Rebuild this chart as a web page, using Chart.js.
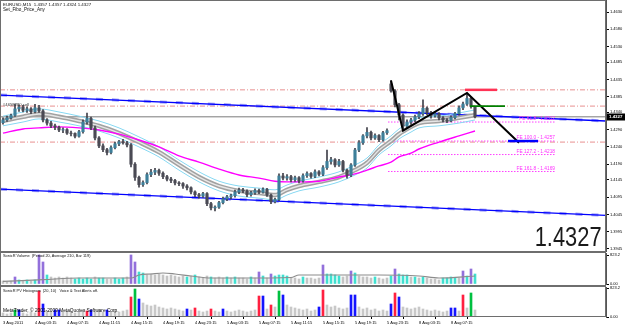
<!DOCTYPE html>
<html>
<head>
<meta charset="utf-8">
<title>EURUSD,M15</title>
<script src="https://cdn.jsdelivr.net/npm/chart.js@4.4.1/dist/chart.umd.min.js"></script>
<style>
  html, body { margin: 0; padding: 0; background: #fff; }
  #wrap { position: relative; width: 625px; height: 326px; overflow: hidden; font-family: "Liberation Sans", Arial, sans-serif; }
  .pane { position: absolute; left: 0; width: 625px; }
  .pane canvas { display: block; }
  .txt { position: absolute; white-space: nowrap; line-height: 1; color: #111; z-index: 2; }
  #bigPrice { right: 23px; top: 224px; font-size: 27px; color: #1a1a1a; transform: scaleX(0.81); transform-origin: right top; }
</style>
</head>
<body>
<div id="wrap">
  <div class="pane" style="top:0;height:252px"><canvas id="main" width="625" height="252"></canvas></div>
  <div class="pane" style="top:252px;height:34px"><canvas id="vol" width="625" height="34"></canvas></div>
  <div class="pane" style="top:286px;height:40px"><canvas id="pv" width="625" height="40"></canvas></div>

  <div class="txt" style="left:3px;top:3px;font-size:4.4px">EURUSD,M15&nbsp; 1.4357 1.4357 1.4324 1.4327</div>
  <div class="txt" style="left:3px;top:8px;font-size:4.6px">Set_Fibo_Price_Any</div>
  <div class="txt" id="bigPrice">1.4327</div>
  <div class="txt" style="left:3px;top:254px;font-size:3.9px">SonicR Volume&nbsp; (Period 20, Average 210, Bar 119)</div>
  <div class="txt" style="left:3px;top:289px;font-size:3.9px">SonicR PV Histogram&nbsp; (20, 10)&nbsp;&nbsp; Voice &amp; Text Alerts off.</div>
  <div class="txt" style="left:3px;top:308.5px;font-size:4.8px;color:#000">MetaTrader, © 2001-2009 MetaQuotes Software Corp.</div>
</div>

<script>
// ---- price axis / time axis
const priceTicks = [1.4630, 1.4580, 1.4530, 1.4485, 1.4435, 1.4385, 1.4340, 1.4290, 1.4240, 1.4190, 1.4145, 1.4095, 1.4045, 1.3995, 1.3945];
const timeLabels = ['3 Aug 2011', '4 Aug 03:15', '4 Aug 07:15', '4 Aug 11:15', '4 Aug 15:15', '4 Aug 19:15', '4 Aug 23:15',
  '5 Aug 03:15', '5 Aug 07:15', '5 Aug 11:15', '5 Aug 15:15', '5 Aug 19:15', '5 Aug 23:15', '8 Aug 03:15', '8 Aug 07:15'];

// ---- candles (bar index 0..118)
const opens = [1.4310,1.4318,1.4324,1.4331,1.4350,1.4355,1.4346,1.4350,1.4342,1.4353,
  1.4344,1.4318,1.4309,1.4301,1.4297,1.4289,1.4290,1.4280,1.4279,1.4271,
  1.4284,1.4312,1.4322,1.4295,1.4266,1.4243,1.4232,1.4224,1.4238,1.4249,
  1.4255,1.4252,1.4246,1.4190,1.4152,1.4131,1.4137,1.4160,1.4167,1.4172,
  1.4164,1.4154,1.4147,1.4143,1.4136,1.4134,1.4127,1.4122,1.4110,1.4102,
  1.4098,1.4105,1.4076,1.4064,1.4066,1.4079,1.4090,1.4096,1.4099,1.4110,
  1.4115,1.4112,1.4102,1.4108,1.4114,1.4109,1.4117,1.4101,1.4082,1.4088,
  1.4156,1.4150,1.4154,1.4145,1.4151,1.4142,1.4157,1.4163,1.4155,1.4168,
  1.4161,1.4180,1.4198,1.4203,1.4188,1.4198,1.4173,1.4158,1.4188,1.4231,
  1.4252,1.4272,1.4282,1.4266,1.4273,1.4261,1.4281,1.4422,1.4402,1.4362,
  1.4332,1.4300,1.4312,1.4318,1.4327,1.4336,1.4352,1.4339,1.4330,1.4336,
  1.4324,1.4318,1.4316,1.4325,1.4336,1.4353,1.4364,1.4380,1.4357];
const highs = [1.4324,1.4329,1.4335,1.4364,1.4361,1.4360,1.4356,1.4354,1.4363,1.4360,
  1.4348,1.4322,1.4314,1.4306,1.4300,1.4295,1.4293,1.4286,1.4281,1.4288,
  1.4318,1.4338,1.4326,1.4300,1.4270,1.4249,1.4236,1.4243,1.4254,1.4259,
  1.4262,1.4256,1.4250,1.4195,1.4156,1.4142,1.4165,1.4175,1.4178,1.4176,
  1.4168,1.4158,1.4152,1.4146,1.4140,1.4137,1.4131,1.4125,1.4113,1.4106,
  1.4109,1.4108,1.4080,1.4070,1.4083,1.4095,1.4100,1.4104,1.4115,1.4121,
  1.4120,1.4116,1.4112,1.4119,1.4118,1.4122,1.4120,1.4104,1.4092,1.4162,
  1.4164,1.4160,1.4158,1.4156,1.4154,1.4162,1.4168,1.4166,1.4174,1.4172,
  1.4186,1.4231,1.4210,1.4206,1.4204,1.4201,1.4176,1.4192,1.4236,1.4258,
  1.4276,1.4296,1.4286,1.4278,1.4276,1.4285,1.4292,1.4432,1.4406,1.4366,
  1.4336,1.4318,1.4323,1.4332,1.4342,1.4376,1.4356,1.4343,1.4341,1.4339,
  1.4328,1.4322,1.4330,1.4340,1.4359,1.4370,1.4396,1.4384,1.4357];
const lows = [1.4306,1.4314,1.4320,1.4328,1.4343,1.4341,1.4340,1.4336,1.4338,1.4340,
  1.4312,1.4303,1.4296,1.4290,1.4284,1.4281,1.4276,1.4272,1.4266,1.4268,
  1.4280,1.4306,1.4290,1.4260,1.4238,1.4226,1.4217,1.4220,1.4234,1.4244,
  1.4248,1.4240,1.4182,1.4143,1.4124,1.4126,1.4133,1.4154,1.4160,1.4158,
  1.4148,1.4142,1.4137,1.4130,1.4128,1.4120,1.4116,1.4104,1.4096,1.4092,
  1.4094,1.4070,1.4058,1.4055,1.4062,1.4075,1.4085,1.4090,1.4095,1.4105,
  1.4108,1.4096,1.4098,1.4103,1.4105,1.4106,1.4097,1.4076,1.4078,1.4085,
  1.4145,1.4144,1.4139,1.4140,1.4136,1.4138,1.4152,1.4150,1.4151,1.4156,
  1.4157,1.4175,1.4190,1.4182,1.4184,1.4168,1.4150,1.4154,1.4184,1.4226,
  1.4247,1.4266,1.4260,1.4262,1.4255,1.4257,1.4276,1.4398,1.4356,1.4318,
  1.4287,1.4294,1.4305,1.4313,1.4322,1.4331,1.4333,1.4323,1.4326,1.4318,
  1.4312,1.4310,1.4312,1.4321,1.4332,1.4348,1.4360,1.4352,1.4324];
const closes = [1.4318,1.4324,1.4331,1.4350,1.4355,1.4346,1.4350,1.4342,1.4353,1.4344,
  1.4318,1.4309,1.4301,1.4297,1.4289,1.4290,1.4280,1.4279,1.4271,1.4284,
  1.4312,1.4322,1.4295,1.4266,1.4243,1.4232,1.4224,1.4238,1.4249,1.4255,
  1.4252,1.4246,1.4190,1.4152,1.4131,1.4137,1.4160,1.4167,1.4172,1.4164,
  1.4154,1.4147,1.4143,1.4136,1.4134,1.4127,1.4122,1.4110,1.4102,1.4098,
  1.4105,1.4076,1.4064,1.4066,1.4079,1.4090,1.4096,1.4099,1.4110,1.4115,
  1.4112,1.4102,1.4108,1.4114,1.4109,1.4117,1.4101,1.4082,1.4088,1.4156,
  1.4150,1.4154,1.4145,1.4151,1.4142,1.4157,1.4163,1.4155,1.4168,1.4161,
  1.4180,1.4198,1.4203,1.4188,1.4198,1.4173,1.4158,1.4188,1.4231,1.4252,
  1.4272,1.4282,1.4266,1.4273,1.4261,1.4281,1.4287,1.4402,1.4362,1.4332,
  1.4300,1.4312,1.4318,1.4327,1.4336,1.4352,1.4339,1.4330,1.4336,1.4324,
  1.4318,1.4316,1.4325,1.4336,1.4353,1.4364,1.4380,1.4357,1.4327];

// ---- moving averages, read at these bar indices
const maBars   = [0, 5, 9, 14, 19, 24, 29, 34, 39, 44, 49, 54, 59, 64, 68, 71, 74, 79, 84, 88, 91, 94, 97, 99, 102, 104, 109, 114, 118];
const emaMid   = [1.4315,1.4327,1.4335,1.4327,1.4315,1.4301,1.4280,1.4254,1.4225,1.4188,1.4153,1.4127,1.4113,1.4107,1.4101,1.4116,1.4127,1.4139,1.4153,1.4173,1.4194,1.4231,1.4257,1.4277,1.4298,1.4309,1.4315,1.4324,1.4332];
const emaUpper = [1.4329,1.4341,1.4350,1.4341,1.4329,1.4315,1.4295,1.4269,1.4240,1.4202,1.4168,1.4141,1.4127,1.4121,1.4116,1.4130,1.4141,1.4153,1.4168,1.4188,1.4208,1.4246,1.4272,1.4292,1.4312,1.4324,1.4329,1.4338,1.4347];
const emaLower = [1.4301,1.4312,1.4321,1.4312,1.4301,1.4286,1.4266,1.4240,1.4211,1.4173,1.4139,1.4113,1.4098,1.4092,1.4087,1.4101,1.4113,1.4124,1.4139,1.4159,1.4179,1.4217,1.4243,1.4263,1.4283,1.4295,1.4301,1.4309,1.4318];
const maSlow   = [1.4280,1.4292,1.4295,1.4298,1.4295,1.4289,1.4277,1.4260,1.4240,1.4214,1.4196,1.4176,1.4159,1.4150,1.4141,1.4139,1.4139,1.4141,1.4153,1.4162,1.4173,1.4185,1.4196,1.4211,1.4222,1.4234,1.4254,1.4272,1.4286];

// ---- drawn objects
const channelX = [-0.75, 150.75];
const channelUpper = [1.4390, 1.4315];
const channelLower = [1.4118, 1.4042];
const dashLevels = [1.4405, 1.4358, 1.4254];
const zigzagX = [97, 100, 116, 129];
const zigzagY = [1.4432, 1.4287, 1.4396, 1.4252];
const fiboNames = ['FE 61.8', 'FE 100.0', 'FE 127.2', 'FE 161.8'];
const fiboLevels = [1.4312, 1.4257, 1.4218, 1.4169];
const fiboFrom = 96.25, fiboTo = 138;
const redMark = [1.4405, 115.5, 123.5];
const greenMark = [1.4358, 116.75, 125.5];
const blueMark = [1.4257, 126.25, 133.75];
const orderLabel = '#4658280 sell';
const orderPrice = 1.4358;

// ---- SonicR Volume  (type: 0 normal, 1 rising, 2 climax)
const volumes = [85,57,85,199,114,85,114,85,114,824, 625,256,199,170,199,170,199,170,142,170,
  142,170,142,199,170,170,142,142,170,142, 170,199,824,625,341,312,256,284,256,284,
  256,227,256,227,199,227,199,227,256,199, 170,227,199,170,199,170,199,170,199,170,
  170,142,199,170,341,227,170,284,227,256, 256,227,170,170,142,199,170,170,142,170,
  540,284,284,256,227,199,227,369,312,227, 199,199,170,199,170,142,170,227,426,284,
  256,256,199,199,170,199,170,142,142,114, 170,170,199,170,170,369,227,426,284];
const volTypes = [0,0,0,2,1,0,1,0,1,2, 2,1,0,0,0,0,0,0,1,1, 1,1,1,0,1,1,0,0,1,1,
  1,0,2,2,1,1,0,0,0,0, 0,0,0,0,0,0,1,0,1,0, 0,0,1,0,0,0,1,0,1,0,
  0,0,1,0,2,1,0,2,1,1, 1,1,0,0,0,1,0,0,0,0, 2,1,1,1,1,0,0,2,1,0,
  0,0,0,1,0,0,0,1,2,1, 1,1,0,1,0,1,0,0,0,0, 1,1,1,1,0,2,1,2,1];
const volMaBars = [0, 10, 19, 32, 34, 37, 40, 43, 47, 52, 60, 72, 74, 94, 104, 109, 118];
const volMa = [74, 122, 170, 170, 256, 284, 312, 284, 227, 170, 170, 185, 256, 256, 227, 170, 227];

// ---- SonicR PV Histogram  (type: 0 normal, 1 red, 2 blue, 3 green)
const pvHist = [114,85,114,199,199,114,85,142,114,738, 369,170,142,199,199,142,170,142,114,142,
  170,170,199,142,170,142,199,142,170,142, 170,199,568,795,511,398,341,312,341,284,
  256,227,256,227,199,170,227,199,256,170, 142,170,227,170,142,227,170,142,170,199,
  170,142,170,199,596,596,227,341,284,738, 625,341,284,256,227,199,227,170,199,284,
  767,341,284,312,256,227,256,625,625,284, 227,256,199,227,170,199,170,369,682,568,
  284,256,227,256,284,227,199,170,199,170, 142,170,256,256,170,625,256,682,199];
const pvTypes = [0,0,0,3,2,0,0,0,0,1, 2,0,0,2,2,0,0,0,0,0, 0,1,2,0,0,0,2,0,0,0,
  0,0,1,3,2,0,0,0,0,0, 0,0,0,0,0,0,2,0,1,0, 0,0,1,0,0,2,0,0,0,0,
  0,0,0,0,1,2,0,1,0,3, 2,0,0,0,0,0,0,0,0,2, 1,0,0,0,0,0,0,2,2,0,
  0,0,0,0,0,0,0,2,1,2, 0,0,0,0,0,0,0,0,0,0, 0,0,2,2,0,1,0,3,0];

// ---- common setup
const FONT = '"Liberation Sans", Arial, sans-serif';
Chart.defaults.font.family = FONT;
Chart.defaults.animation = false;
Chart.defaults.plugins.legend.display = false;
Chart.defaults.plugins.tooltip.enabled = false;
Chart.defaults.events = [];

const X_MIN = -0.75, X_MAX = 150.75;
const AXIS_W = 19;

const volColors = ['#c4c4c4', '#40e0d0', '#9370db'];
const pvColors = ['#c8c8c8', '#ff2040', '#1414ff', '#00c040'];

function fixRightAxis(s) {
  s.width = AXIS_W;
  s.paddingTop = 0;
  s.paddingBottom = 0;
}

function rightAxis(min, max, tickValues, fmt) {
  return {
    position: 'right', min: min, max: max,
    afterFit: fixRightAxis,
    afterBuildTicks: s => { s.ticks = tickValues.map(v => ({ value: v })); },
    ticks: { autoSkip: false, padding: 1, color: '#000', font: { size: 4 }, callback: fmt },
    grid: { drawOnChartArea: false, drawTicks: true, tickLength: 3, color: '#000', lineWidth: 1 },
    border: { display: true, color: '#555', width: 1 }
  };
}

const hiddenX = { type: 'linear', min: X_MIN, max: X_MAX, offset: false, display: false };

function hLine(level, from, to, style) {
  return Object.assign({ type: 'line', data: [{ x: from, y: level }, { x: to, y: level }],
    pointRadius: 0, borderWidth: 1 }, style);
}

function curve(xs, ys, style) {
  return Object.assign({ type: 'line', data: xs.map((v, k) => ({ x: v, y: ys[k] })),
    pointRadius: 0, cubicInterpolationMode: 'monotone' }, style);
}

const frame = {
  id: 'frame',
  afterDraw(chart, args, opts) {
    const { ctx, chartArea: a } = chart;
    const bottom = opts.toArea ? a.bottom - 0.5 : chart.height - 0.5;
    ctx.save();
    ctx.strokeStyle = '#6e6e6e';
    ctx.lineWidth = 1;
    ctx.strokeRect(0.5, 0.5, a.right - 1, bottom - 0.5);
    ctx.restore();
  }
};

// labels that sit on prices: fibo names, order, current price tag
const priceLabels = {
  id: 'priceLabels',
  afterDatasetsDraw(chart) {
    const { ctx, scales: { x, y } } = chart;
    ctx.save();
    ctx.font = '4.8px ' + FONT;
    ctx.fillStyle = '#ff30ff';
    ctx.textAlign = 'right';
    ctx.textBaseline = 'bottom';
    fiboLevels.forEach((lvl, k) => {
      ctx.fillText(fiboNames[k] + ' - ' + lvl.toFixed(4), x.getPixelForValue(fiboTo), y.getPixelForValue(lvl) - 0.5);
    });
    ctx.font = '4.2px ' + FONT;
    ctx.fillStyle = '#333';
    ctx.textAlign = 'left';
    ctx.textBaseline = 'middle';
    ctx.fillText(orderLabel, 3, y.getPixelForValue(orderPrice) - 1.5);
    ctx.restore();
  },
  afterDraw(chart) {
    const { ctx, scales: { y } } = chart;
    const last = closes[closes.length - 1];
    const py = Math.round(y.getPixelForValue(last));
    ctx.save();
    ctx.fillStyle = '#000';
    ctx.fillRect(607, py - 3.5, 18, 7);
    ctx.fillStyle = '#fff';
    ctx.font = 'bold 4.4px ' + FONT;
    ctx.textAlign = 'left';
    ctx.textBaseline = 'middle';
    ctx.fillText(last.toFixed(4), 609, py);
    ctx.restore();
  }
};

// ---- main price chart
const lastClose = closes[closes.length - 1];
const idx = closes.map((_, i) => i);

const mainSets = [];
dashLevels.forEach(l => mainSets.push(hLine(l, X_MIN, X_MAX, { borderColor: '#e89090', borderDash: [5, 2, 1, 2], order: 30 })));
mainSets.push(hLine(lastClose, X_MIN, X_MAX, { borderColor: '#7a7a7a', order: 29 }));
fiboLevels.forEach(l => mainSets.push(hLine(l, fiboFrom, fiboTo, { borderColor: '#ff40ff', borderDash: [1.5, 1.5], order: 28 })));
[channelUpper, channelLower].forEach(c => {
  mainSets.push(curve(channelX, c, { borderColor: '#a4a4f4', borderWidth: 3, borderDash: [7, 9], order: 26 }));
  mainSets.push(curve(channelX, c, { borderColor: '#0000ff', borderWidth: 1.3, order: 25 }));
});
mainSets.push(curve(maBars, emaUpper, { borderColor: '#86d8f2', borderWidth: 1, order: 22 }));
mainSets.push(curve(maBars, emaLower, { borderColor: '#86d8f2', borderWidth: 1, order: 22 }));
mainSets.push(curve(maBars, emaMid, { borderColor: '#a2a2a2', borderWidth: 4.5, order: 21 }));
mainSets.push(curve(maBars, emaMid, { borderColor: '#e6e6e6', borderWidth: 1.4, order: 20 }));
mainSets.push(curve(maBars, maSlow, { borderColor: '#ff00ff', borderWidth: 1.4, order: 19 }));
mainSets.push({
  type: 'bar', grouped: false, barThickness: 1, order: 2,
  data: idx.map(i => ({ x: i, y: [lows[i], highs[i]] })),
  backgroundColor: '#40404a'
});
mainSets.push({
  type: 'bar', grouped: false, barThickness: 2.5, order: 1,
  data: idx.map(i => ({ x: i, y: [opens[i], closes[i]] })),
  backgroundColor: idx.map(i => closes[i] >= opens[i] ? '#3d7f9a' : '#4a4a54')
});
mainSets.push(curve(zigzagX, zigzagY, { cubicInterpolationMode: 'default', tension: 0, borderColor: '#000', borderWidth: 2, order: -1 }));
mainSets.push(hLine(redMark[0], redMark[1], redMark[2], { borderColor: '#ff3355', borderWidth: 2.5, order: -2 }));
mainSets.push(hLine(greenMark[0], greenMark[1], greenMark[2], { borderColor: '#008000', borderWidth: 1.6, order: -2 }));
mainSets.push(hLine(blueMark[0], blueMark[1], blueMark[2], { borderColor: '#0000ff', borderWidth: 2.5, order: -2 }));

new Chart(document.getElementById('main'), {
  type: 'bar',
  data: { datasets: mainSets },
  options: {
    responsive: false,
    layout: { padding: 0 },
    scales: {
      x: hiddenX,
      y: rightAxis(1.39363, 1.46647, priceTicks, v => v.toFixed(4))
    },
    plugins: { frame: { toArea: false } }
  },
  plugins: [frame, priceLabels]
});

// ---- volume panel
new Chart(document.getElementById('vol'), {
  type: 'bar',
  data: {
    datasets: [
      curve(volMaBars, volMa, { borderColor: '#8c8c8c', borderWidth: 1.2, order: 0 }),
      {
        type: 'bar', grouped: false, barThickness: 2, order: 1,
        data: idx.map(i => ({ x: i, y: volumes[i] })),
        backgroundColor: idx.map(i => volColors[volTypes[i]])
      }
    ]
  },
  options: {
    responsive: false,
    layout: { padding: { top: 1, bottom: 2, left: 0, right: 0 } },
    scales: {
      x: hiddenX,
      y: rightAxis(0, 880, [0, 823.2], v => v === 0 ? '0.00' : v.toFixed(1))
    },
    plugins: { frame: { toArea: false } }
  },
  plugins: [frame]
});

// ---- PV histogram panel with time axis
new Chart(document.getElementById('pv'), {
  type: 'bar',
  data: {
    datasets: [{
      grouped: false, barThickness: 2,
      data: idx.map(i => ({ x: i, y: pvHist[i] })),
      backgroundColor: idx.map(i => pvColors[pvTypes[i]])
    }]
  },
  options: {
    responsive: false,
    layout: { padding: { top: 1, bottom: 0, left: 0, right: 0 } },
    scales: {
      x: {
        type: 'linear', min: X_MIN, max: X_MAX, offset: false,
        afterBuildTicks: s => { s.ticks = timeLabels.map((_, k) => ({ value: k * 8 })); },
        afterFit: s => { s.height = 9; s.paddingLeft = 0; s.paddingRight = 0; },
        ticks: { autoSkip: false, maxRotation: 0, minRotation: 0, align: 'start', padding: 1,
          color: '#000', font: { size: 4 }, callback: (v, k) => timeLabels[k] },
        grid: { drawOnChartArea: false, drawTicks: true, tickLength: 2, color: '#000' },
        border: { display: false }
      },
      y: rightAxis(0, 852, [0, 823.2], v => v === 0 ? '0.00' : v.toFixed(1))
    },
    plugins: { frame: { toArea: true } }
  },
  plugins: [frame]
});
</script>
</body>
</html>
